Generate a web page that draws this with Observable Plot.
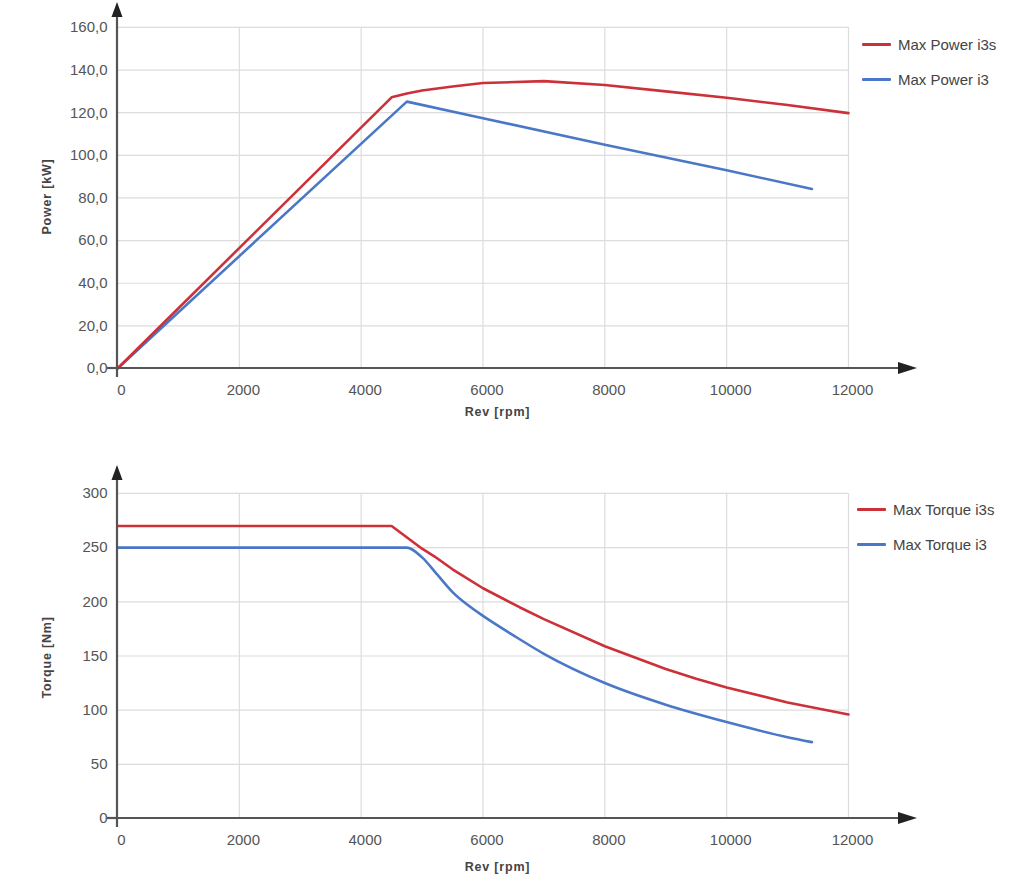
<!DOCTYPE html>
<html>
<head>
<meta charset="utf-8">
<script src="https://cdn.jsdelivr.net/npm/d3@7"></script>
<script src="https://cdn.jsdelivr.net/npm/@observablehq/plot@0.6"></script>
<style>
  html, body { margin: 0; padding: 0; background: #fff; overflow: hidden; }
  #wrap { position: relative; width: 1024px; height: 885px; font-family: "Liberation Sans", Arial, sans-serif; }
  #wrap svg { display: block; }
  .legend { position: absolute; font-size: 15px; color: #444; }
  .legend .item { display: flex; align-items: center; height: 20px; }
  .legend .sw { display: inline-block; width: 29px; height: 3px; margin-right: 7px; border-radius: 1px; }
  .ylab text { letter-spacing: 0.8px; }
</style>
</head>
<body>
<div id="wrap"></div>
<script>
// ---- data ----
const rpmTicks = [0, 2000, 4000, 6000, 8000, 10000, 12000];
const powerTicks = [0, 20, 40, 60, 80, 100, 120, 140, 160];
const torqueTicks = [0, 50, 100, 150, 200, 250, 300];

const powerI3sRpm = [0, 4500, 4750, 5000, 5500, 6000, 7000, 8000, 9000, 10000, 11000, 12000];
const powerI3s    = [0, 127.2, 129.0, 130.4, 132.3, 133.9, 134.8, 133.0, 130.0, 127.0, 123.6, 119.8];

const powerI3Rpm = [0, 4750, 6000, 8000, 10000, 11400];
const powerI3    = [0, 125.2, 117.4, 105.0, 93.0, 84.2];

const torqueI3sRpm = [0, 4500, 5000, 5200, 5500, 6000, 6600, 7000, 8000, 9000, 9500, 10000, 11000, 12000];
const torqueI3s    = [270, 270, 249, 242, 230, 212.5, 195, 184, 159, 138, 129, 121, 107, 96];

const torqueI3Rpm = [0, 4750, 5000, 5250, 5500, 5750, 6000, 6500, 7000, 8000, 9000, 10000, 11000, 11400];
const torqueI3    = [250, 250, 241, 225, 209, 197, 187, 169, 152, 125, 105, 89, 75, 70.5];

const colorI3s = "#cc3038";
const colorI3 = "#4a78c6";

function toRows(xs, ys) { return xs.map((x, i) => ({x, y: ys[i]})); }

function axesMark(xEnd, yEnd) {
  return (index, scales) => {
    const g = d3.create("svg:g");
    const x0 = scales.x(0), y0 = scales.y(0), xe = scales.x(xEnd), ye = scales.y(yEnd);
    const c = "#555";
    g.append("line").attr("x1", x0).attr("x2", xe - 10).attr("y1", y0).attr("y2", y0)
      .attr("stroke", c).attr("stroke-width", 2.2);
    g.append("line").attr("x1", x0).attr("x2", x0).attr("y1", y0 + 9).attr("y2", ye + 10)
      .attr("stroke", c).attr("stroke-width", 2.2);
    g.append("line").attr("x1", x0 - 10).attr("x2", x0).attr("y1", y0).attr("y2", y0)
      .attr("stroke", c).attr("stroke-width", 2.2);
    g.append("path").attr("d", `M${xe + 2},${y0}L${xe - 17},${y0 - 6}L${xe - 17},${y0 + 6}Z`).attr("fill", "#222");
    g.append("path").attr("d", `M${x0},${ye}L${x0 - 5.5},${ye + 15}L${x0 + 5.5},${ye + 15}Z`).attr("fill", "#222");
    return g.node();
  };
}

function makeChart({height, marginTop, marginBottom, yDomainMax, yTicks, yFormat, yLabel, yLabelY, red, blue, blueCurve}) {
  const yGridMax = yTicks[yTicks.length - 1];
  return Plot.plot({
    width: 1024,
    height,
    marginLeft: 117,
    marginRight: 109,
    marginTop,
    marginBottom,
    style: {fontFamily: "Liberation Sans, Arial, sans-serif", background: "white"},
    x: {domain: [0, 13100], axis: null},
    y: {domain: [0, yDomainMax], axis: null},
    marks: [
      Plot.ruleY(yTicks.slice(1), {x1: 0, x2: 12000, stroke: "#dcdcdc", strokeWidth: 1.2}),
      Plot.ruleX(rpmTicks.slice(1), {y1: 0, y2: yGridMax, stroke: "#dcdcdc", strokeWidth: 1.2}),
      Plot.axisY(yTicks, {tickSize: 0, tickPadding: 10, tickFormat: yFormat, fontSize: 15, color: "#555", label: null}),
      Plot.axisX(rpmTicks, {tickSize: 0, tickPadding: 16, tickFormat: d3.format("d"), fontSize: 15, color: "#555", label: null, dx: 4}),
      Plot.text([yLabel], {frameAnchor: "left", textAnchor: "middle", dx: -71, dy: yLabelY, rotate: -90, fontSize: 12.5, fontWeight: "bold", fill: "#444", className: "ylab"}),
      Plot.text(["Rev [rpm]"], {frameAnchor: "bottom", textAnchor: "middle", dx: 497 - (117 + (1024 - 117 - 109) / 2), dy: marginBottom - 15, fontSize: 12.5, fontWeight: "bold", fill: "#444", className: "ylab"}),
      Plot.line(toRows(blue[0], blue[1]), {x: "x", y: "y", stroke: colorI3, strokeWidth: 2.6, curve: blueCurve || "linear"}),
      Plot.line(toRows(red[0], red[1]), {x: "x", y: "y", stroke: colorI3s, strokeWidth: 2.6}),
      axesMark(13100, yDomainMax)
    ]
  });
}

const wrap = document.getElementById("wrap");

const powerChart = makeChart({
  height: 430, marginTop: 2, marginBottom: 62,
  yDomainMax: 171.7, yTicks: powerTicks,
  yFormat: d => d3.format(".1f")(d).replace(".", ","),
  yLabel: "Power [kW]", yLabelY: (196 - (2 + 368) / 2),
  red: [powerI3sRpm, powerI3s], blue: [powerI3Rpm, powerI3]
});
wrap.appendChild(powerChart);

const torqueChart = makeChart({
  height: 455, marginTop: 35, marginBottom: 67,
  yDomainMax: 325.8, yTicks: torqueTicks,
  yFormat: d => String(d),
  yLabel: "Torque [Nm]", yLabelY: (657 - 430 - (35 + 388) / 2),
  red: [torqueI3sRpm, torqueI3s], blue: [torqueI3Rpm, torqueI3], blueCurve: "monotone-x"
});
wrap.appendChild(torqueChart);

function legend(topPx, left, labels) {
  const d = document.createElement("div");
  d.className = "legend";
  d.style.top = topPx + "px";
  d.style.left = left + "px";
  d.innerHTML = labels.map(([c, t], i) =>
    `<div class="item" style="margin-bottom:${i === 0 ? 15 : 0}px"><span class="sw" style="background:${c}"></span>${t}</div>`).join("");
  wrap.appendChild(d);
}
legend(34, 862, [[colorI3s, "Max Power i3s"], [colorI3, "Max Power i3"]]);
legend(499, 857, [[colorI3s, "Max Torque i3s"], [colorI3, "Max Torque i3"]]);
</script>
</body>
</html>
